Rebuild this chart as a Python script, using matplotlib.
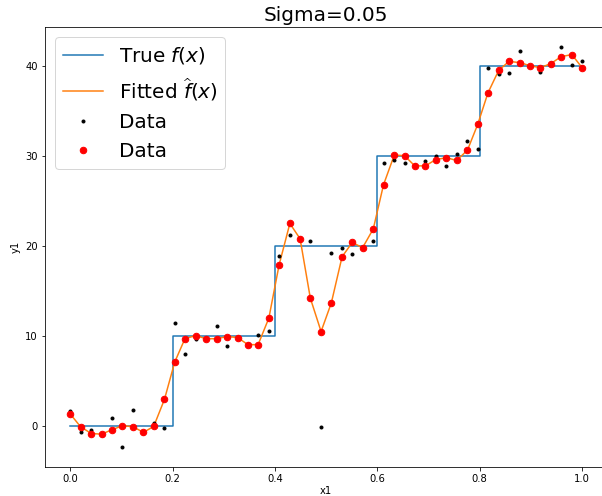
import numpy as np
import matplotlib
matplotlib.use("Agg")
import matplotlib.pyplot as plt

# sample positions (50 equally spaced points on [0, 1])
x1 = [0.000, 0.020, 0.041, 0.061, 0.082, 0.102, 0.122, 0.143, 0.163, 0.184,
      0.204, 0.224, 0.245, 0.265, 0.286, 0.306, 0.327, 0.347, 0.367, 0.388,
      0.408, 0.429, 0.449, 0.469, 0.490, 0.510, 0.531, 0.551, 0.571, 0.592,
      0.612, 0.633, 0.653, 0.673, 0.694, 0.714, 0.735, 0.755, 0.776, 0.796,
      0.816, 0.837, 0.857, 0.878, 0.898, 0.918, 0.939, 0.959, 0.980, 1.000]

# noisy observations (black dots)
y_data = [1.67, -0.63, -0.45, -0.95, 0.85, -2.33, 1.78, -0.75, 0.33, -0.26,
          11.48, 7.96, 9.67, 9.80, 11.15, 8.93, 9.90, 9.10, 10.07, 10.60,
          18.90, 21.20, 20.90, 20.50, -0.07, 19.26, 19.80, 19.07, 19.80, 20.50,
          29.26, 29.56, 29.20, 29.00, 29.40, 30.03, 28.90, 30.20, 31.67, 30.74,
          39.80, 39.10, 39.20, 41.70, 40.00, 39.30, 40.30, 42.07, 40.15, 40.60]

# fitted values at the sample positions (red dots / orange line)
y_fit = [1.33, -0.07, -0.83, -0.90, -0.40, 0.04, -0.07, -0.70, -0.04, 2.96,
         7.10, 9.70, 10.05, 9.70, 9.70, 9.94, 9.83, 9.04, 9.04, 12.00,
         17.90, 22.50, 20.80, 14.20, 10.50, 13.67, 18.80, 20.40, 19.80, 21.90,
         26.80, 30.10, 30.03, 28.90, 28.90, 29.60, 29.80, 29.50, 30.65, 33.50,
         37.00, 39.50, 40.50, 40.37, 40.03, 39.80, 40.26, 41.03, 41.26, 39.80]

# true step function
step_edges = [0.0, 0.2, 0.4, 0.6, 0.8, 1.0]
step_levels = [0, 10, 20, 30, 40, 40]

fig = plt.figure(figsize=(602 / 72, 496 / 72), dpi=72)
ax = fig.add_axes([44.7 / 602, (496 - 467) / 496, 563 / 602, (467 - 27.3) / 496])

ax.step(step_edges, step_levels, where='post', color='C0', label='True $f(x)$')
ax.plot(x1, y_fit, color='C1', label=r'Fitted $\widehat{f}(x)$')
ax.plot(x1, y_data, 'k.', label='Data')
ax.plot(x1, y_fit, 'ro', markersize=6.5, label='Data')

ax.set_title('Sigma=0.05', fontsize=20)
ax.set_xlabel('x1', labelpad=2)
ax.set_ylabel('y1')
ax.legend(loc='upper left', fontsize=20)

fig.savefig('out.png', dpi=72)
